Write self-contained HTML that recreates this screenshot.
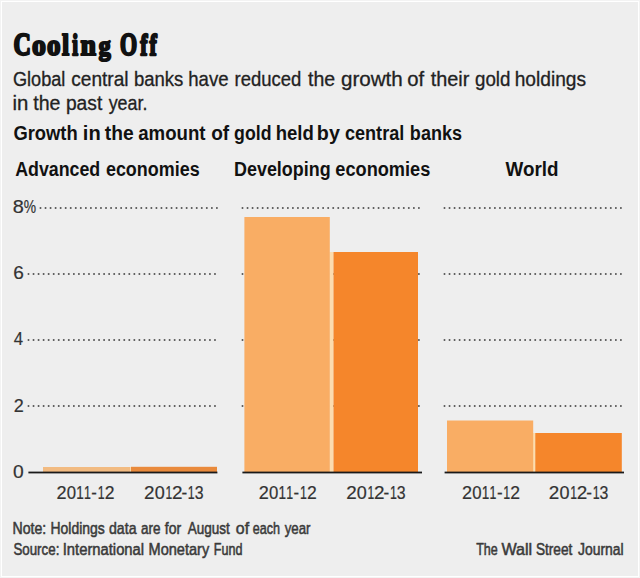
<!DOCTYPE html>
<html><head><meta charset="utf-8">
<style>
html,body{margin:0;padding:0;background:#f3f3f3;}
body{width:640px;height:578px;overflow:hidden;position:relative;}
svg{position:absolute;left:0;top:0;display:block;}
text{vector-effect:non-scaling-stroke;}
.sans{font-family:"Liberation Sans", sans-serif;}
.serif{font-family:"Liberation Serif", serif;}
</style></head><body>
<svg width="640" height="578" viewBox="0 0 640 578">
  <rect x="0" y="0" width="640" height="578" fill="#f3f3f3"/>
  <rect x="1" y="1" width="638" height="576" fill="#ffffff"/>
  <rect x="2" y="2" width="636" height="574" fill="#eeeeee"/>

  <g class="serif" font-size="32" font-weight="bold" fill="#111" stroke="#111" stroke-width="2" stroke-linejoin="round" vector-effect="non-scaling-stroke">
    <text transform="translate(13.59,55.3) scale(0.754,1.000)">C</text>
    <text transform="translate(32.06,55.3) scale(0.868,0.934)">o</text>
    <text transform="translate(47.09,55.3) scale(0.846,0.934)">o</text>
    <text transform="translate(62.12,55.3) scale(0.805,0.950)">l</text>
    <text transform="translate(72.24,55.3) scale(0.656,0.896)">i</text>
    <text transform="translate(80.42,55.3) scale(0.872,0.934)">n</text>
    <text transform="translate(98.70,55.3) scale(0.745,0.848)">g</text>
    <text transform="translate(120.10,55.3) scale(0.687,1.000)">O</text>
    <text transform="translate(140.16,55.3) scale(0.676,0.947)">f</text>
    <text transform="translate(149.46,55.3) scale(0.676,0.947)">f</text>

  </g>
  <g class="sans" font-size="20" font-weight="normal" fill="#222" stroke="#222" stroke-width="0.3" stroke-linejoin="round" vector-effect="non-scaling-stroke">
    <text transform="translate(12.99,86) scale(0.907,1)">Global</text>
    <text transform="translate(71.19,86) scale(0.957,1)">central</text>
    <text transform="translate(133.95,86) scale(0.926,1)">banks</text>
    <text transform="translate(188.25,86) scale(0.929,1)">have</text>
    <text transform="translate(234.55,86) scale(0.924,1)">reduced</text>
    <text transform="translate(307.96,86) scale(0.977,1)">the</text>
    <text transform="translate(340.93,86) scale(1.031,1)">growth</text>
    <text transform="translate(407.24,86) scale(1.013,1)">of</text>
    <text transform="translate(430.65,86) scale(0.995,1)">their</text>
    <text transform="translate(475.00,86) scale(0.936,1)">gold</text>
    <text transform="translate(514.71,86) scale(0.959,1)">holdings</text>
  </g>
  <g class="sans" font-size="20" font-weight="normal" fill="#222" stroke="#222" stroke-width="0.3" stroke-linejoin="round" vector-effect="non-scaling-stroke">
    <text transform="translate(12.58,110) scale(1.019,1)">in</text>
    <text transform="translate(33.26,110) scale(0.977,1)">the</text>
    <text transform="translate(65.90,110) scale(0.962,1)">past</text>
    <text transform="translate(108.66,110) scale(0.896,1)">year.</text>
  </g>
  <g class="sans" font-size="20.5" font-weight="bold" fill="#111">
    <text transform="translate(13.38,140) scale(0.897,1)">Growth</text>
    <text transform="translate(82.83,140) scale(0.981,1)">in</text>
    <text transform="translate(104.72,140) scale(0.939,1)">the</text>
    <text transform="translate(138.20,140) scale(0.911,1)">amount</text>
    <text transform="translate(211.16,140) scale(0.930,1)">of</text>
    <text transform="translate(234.11,140) scale(0.864,1)">gold</text>
    <text transform="translate(275.64,140) scale(0.904,1)">held</text>
    <text transform="translate(316.85,140) scale(0.962,1)">by</text>
    <text transform="translate(344.99,140) scale(0.882,1)">central</text>
    <text transform="translate(409.87,140) scale(0.880,1)">banks</text>
  </g>
  <g class="sans" font-size="20.5" font-weight="bold" fill="#111">
    <text transform="translate(15.17,176) scale(0.869,1)">Advanced</text>
    <text transform="translate(105.90,176) scale(0.876,1)">economies</text>
    <text transform="translate(234.03,176) scale(0.874,1)">Developing</text>
    <text transform="translate(335.29,176) scale(0.888,1)">economies</text>
    <text transform="translate(505.60,176) scale(0.917,1)">World</text>
  </g>

  <g>
        <line x1="40.5" y1="208" x2="218" y2="208" stroke="#555555" stroke-width="2.0" stroke-linecap="round" stroke-dasharray="0 5.04"/>
    <line x1="242.5" y1="208" x2="421" y2="208" stroke="#555555" stroke-width="2.0" stroke-linecap="round" stroke-dasharray="0 5.04"/>
    <line x1="444.5" y1="208" x2="624" y2="208" stroke="#555555" stroke-width="2.0" stroke-linecap="round" stroke-dasharray="0 5.04"/>
    <line x1="28.5" y1="274" x2="218" y2="274" stroke="#555555" stroke-width="2.0" stroke-linecap="round" stroke-dasharray="0 5.04"/>
    <line x1="242.5" y1="274" x2="421" y2="274" stroke="#555555" stroke-width="2.0" stroke-linecap="round" stroke-dasharray="0 5.04"/>
    <line x1="444.5" y1="274" x2="624" y2="274" stroke="#555555" stroke-width="2.0" stroke-linecap="round" stroke-dasharray="0 5.04"/>
    <line x1="28.5" y1="340" x2="218" y2="340" stroke="#555555" stroke-width="2.0" stroke-linecap="round" stroke-dasharray="0 5.04"/>
    <line x1="242.5" y1="340" x2="421" y2="340" stroke="#555555" stroke-width="2.0" stroke-linecap="round" stroke-dasharray="0 5.04"/>
    <line x1="444.5" y1="340" x2="624" y2="340" stroke="#555555" stroke-width="2.0" stroke-linecap="round" stroke-dasharray="0 5.04"/>
    <line x1="28.5" y1="406" x2="218" y2="406" stroke="#555555" stroke-width="2.0" stroke-linecap="round" stroke-dasharray="0 5.04"/>
    <line x1="242.5" y1="406" x2="421" y2="406" stroke="#555555" stroke-width="2.0" stroke-linecap="round" stroke-dasharray="0 5.04"/>
    <line x1="444.5" y1="406" x2="624" y2="406" stroke="#555555" stroke-width="2.0" stroke-linecap="round" stroke-dasharray="0 5.04"/>
  </g>

  <g class="sans" font-size="18" font-weight="normal" fill="#333" stroke="#333" stroke-width="0.2" stroke-linejoin="round" vector-effect="non-scaling-stroke">
    <text transform="translate(12.71,212.5) scale(1.107,1)">8</text>
    <text transform="translate(23.64,212.5) scale(0.770,1)">%</text>
  </g>
  <g class="sans" font-size="18" font-weight="normal" fill="#333" stroke="#333" stroke-width="0.2" stroke-linejoin="round" vector-effect="non-scaling-stroke">
    <text transform="translate(13.15,279) scale(1.060,1)">6</text>
  </g>
  <g class="sans" font-size="18" font-weight="normal" fill="#333" stroke="#333" stroke-width="0.2" stroke-linejoin="round" vector-effect="non-scaling-stroke">
    <text transform="translate(13.73,345) scale(0.934,1)">4</text>
  </g>
  <g class="sans" font-size="18" font-weight="normal" fill="#333" stroke="#333" stroke-width="0.2" stroke-linejoin="round" vector-effect="non-scaling-stroke">
    <text transform="translate(13.80,411.5) scale(1.000,1)">2</text>
  </g>
  <g class="sans" font-size="18" font-weight="normal" fill="#333" stroke="#333" stroke-width="0.2" stroke-linejoin="round" vector-effect="non-scaling-stroke">
    <text transform="translate(12.95,477.5) scale(1.070,1)">0</text>
  </g>

  <rect x="43" y="467" width="88" height="5" fill="#f2bb82"/>
  <rect x="130" y="467" width="1.5" height="5" fill="#fbd9aa"/>
  <rect x="131" y="466.8" width="86" height="5.2" fill="#e98a3c"/>
  <rect x="329.5" y="252" width="4" height="220" fill="#fcdcae"/>
  <rect x="244.4" y="217" width="85.4" height="255" fill="#f9ad64"/>
  <rect x="333.5" y="252" width="84.5" height="220" fill="#f5862b"/>
  <rect x="532.8" y="433" width="3" height="39" fill="#fcdcae"/>
  <rect x="447" y="420.5" width="86.2" height="51.5" fill="#f9ad64"/>
  <rect x="535.3" y="433" width="86.5" height="39" fill="#f5862b"/>

  <rect x="28.4" y="471.6" width="189" height="1.8" fill="#1a1a1a"/>
  <rect x="242.4" y="471.6" width="179.6" height="1.8" fill="#1a1a1a"/>
  <rect x="444.6" y="471.6" width="179.4" height="1.8" fill="#1a1a1a"/>

  <g class="sans" font-size="18" font-weight="normal" fill="#333" stroke="#333" stroke-width="0.2" stroke-linejoin="round" vector-effect="non-scaling-stroke">
    <text transform="translate(56.44,498.5) scale(1.006,1)">2</text>
    <text transform="translate(66.75,498.5) scale(0.930,1)">0</text>
    <text transform="translate(76.25,498.5) scale(0.753,1)">1</text>
    <text transform="translate(83.94,498.5) scale(0.688,1)">1</text>
    <text transform="translate(91.35,498.5) scale(0.932,1)">-</text>
    <text transform="translate(97.64,498.5) scale(0.688,1)">1</text>
    <text transform="translate(104.82,498.5) scale(0.976,1)">2</text>
  </g>
  <g class="sans" font-size="18" font-weight="normal" fill="#333" stroke="#333" stroke-width="0.2" stroke-linejoin="round" vector-effect="non-scaling-stroke">
    <text transform="translate(144.06,498.5) scale(1.049,1)">2</text>
    <text transform="translate(154.70,498.5) scale(1.000,1)">0</text>
    <text transform="translate(165.45,498.5) scale(0.675,1)">1</text>
    <text transform="translate(171.96,498.5) scale(1.049,1)">2</text>
    <text transform="translate(181.44,498.5) scale(0.955,1)">-</text>
    <text transform="translate(187.84,498.5) scale(0.688,1)">1</text>
    <text transform="translate(194.68,498.5) scale(0.882,1)">3</text>
  </g>
  <g class="sans" font-size="18" font-weight="normal" fill="#333" stroke="#333" stroke-width="0.2" stroke-linejoin="round" vector-effect="non-scaling-stroke">
    <text transform="translate(258.69,498.5) scale(1.006,1)">2</text>
    <text transform="translate(269.00,498.5) scale(0.930,1)">0</text>
    <text transform="translate(278.50,498.5) scale(0.753,1)">1</text>
    <text transform="translate(286.19,498.5) scale(0.688,1)">1</text>
    <text transform="translate(293.60,498.5) scale(0.932,1)">-</text>
    <text transform="translate(299.89,498.5) scale(0.688,1)">1</text>
    <text transform="translate(307.07,498.5) scale(0.976,1)">2</text>
  </g>
  <g class="sans" font-size="18" font-weight="normal" fill="#333" stroke="#333" stroke-width="0.2" stroke-linejoin="round" vector-effect="non-scaling-stroke">
    <text transform="translate(346.16,498.5) scale(1.049,1)">2</text>
    <text transform="translate(356.80,498.5) scale(1.000,1)">0</text>
    <text transform="translate(367.55,498.5) scale(0.675,1)">1</text>
    <text transform="translate(374.06,498.5) scale(1.049,1)">2</text>
    <text transform="translate(383.54,498.5) scale(0.955,1)">-</text>
    <text transform="translate(389.94,498.5) scale(0.688,1)">1</text>
    <text transform="translate(396.78,498.5) scale(0.882,1)">3</text>
  </g>
  <g class="sans" font-size="18" font-weight="normal" fill="#333" stroke="#333" stroke-width="0.2" stroke-linejoin="round" vector-effect="non-scaling-stroke">
    <text transform="translate(461.99,498.5) scale(1.006,1)">2</text>
    <text transform="translate(472.30,498.5) scale(0.930,1)">0</text>
    <text transform="translate(481.80,498.5) scale(0.753,1)">1</text>
    <text transform="translate(489.49,498.5) scale(0.688,1)">1</text>
    <text transform="translate(496.90,498.5) scale(0.932,1)">-</text>
    <text transform="translate(503.19,498.5) scale(0.688,1)">1</text>
    <text transform="translate(510.37,498.5) scale(0.976,1)">2</text>
  </g>
  <g class="sans" font-size="18" font-weight="normal" fill="#333" stroke="#333" stroke-width="0.2" stroke-linejoin="round" vector-effect="non-scaling-stroke">
    <text transform="translate(548.86,498.5) scale(1.049,1)">2</text>
    <text transform="translate(559.50,498.5) scale(1.000,1)">0</text>
    <text transform="translate(570.25,498.5) scale(0.675,1)">1</text>
    <text transform="translate(576.76,498.5) scale(1.049,1)">2</text>
    <text transform="translate(586.24,498.5) scale(0.955,1)">-</text>
    <text transform="translate(592.64,498.5) scale(0.688,1)">1</text>
    <text transform="translate(599.48,498.5) scale(0.882,1)">3</text>
  </g>

  <g class="sans" font-size="16" font-weight="normal" fill="#3a3a3a" stroke="#3a3a3a" stroke-width="0.5" stroke-linejoin="round" vector-effect="non-scaling-stroke">
    <text transform="translate(12.50,534) scale(0.882,1)">Note:</text>
    <text transform="translate(50.52,534) scale(0.873,1)">Holdings</text>
    <text transform="translate(109.03,534) scale(0.882,1)">data</text>
    <text transform="translate(141.06,534) scale(0.843,1)">are</text>
    <text transform="translate(164.87,534) scale(0.876,1)">for</text>
    <text transform="translate(187.67,534) scale(0.847,1)">August</text>
    <text transform="translate(235.80,534) scale(0.996,1)">of</text>
    <text transform="translate(252.70,534) scale(0.785,1)">each</text>
    <text transform="translate(284.67,534) scale(0.828,1)">year</text>
  </g>
  <g class="sans" font-size="16" font-weight="normal" fill="#3a3a3a" stroke="#3a3a3a" stroke-width="0.5" stroke-linejoin="round" vector-effect="non-scaling-stroke">
    <text transform="translate(13.42,554.5) scale(0.833,1)">Source:</text>
    <text transform="translate(62.76,554.5) scale(0.924,1)">International</text>
    <text transform="translate(148.57,554.5) scale(0.910,1)">Monetary</text>
    <text transform="translate(213.73,554.5) scale(0.786,1)">Fund</text>
  </g>
  <g class="sans" font-size="16" font-weight="normal" fill="#3a3a3a" stroke="#3a3a3a" stroke-width="0.5" stroke-linejoin="round" vector-effect="non-scaling-stroke">
    <text transform="translate(476.19,554.5) scale(0.783,1)">The</text>
    <text transform="translate(501.40,554.5) scale(1.007,1)">Wall</text>
    <text transform="translate(535.90,554.5) scale(0.853,1)">Street</text>
    <text transform="translate(577.99,554.5) scale(0.871,1)">Journal</text>
  </g>
</svg>
</body></html>
